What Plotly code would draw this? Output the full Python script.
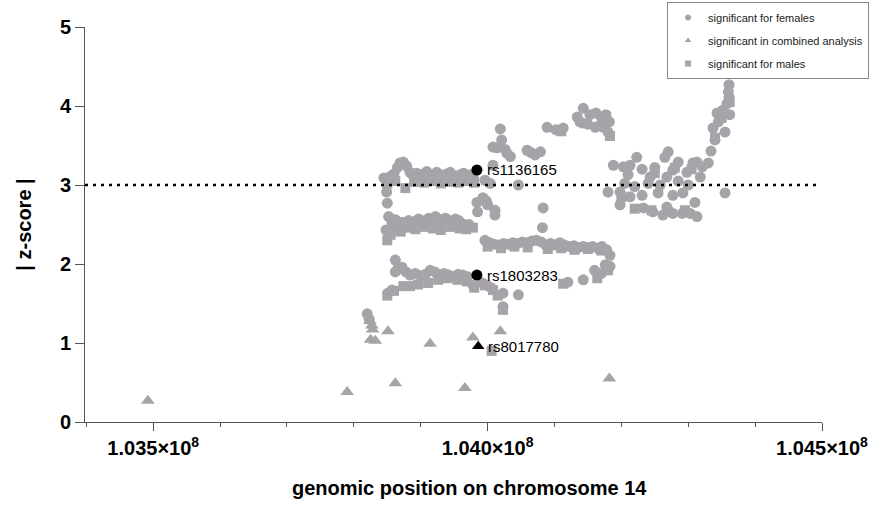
import plotly.graph_objects as go

# ---------------- data (positions in Mb, |z-score|) ----------------
fem_pos = [
    # top band ~3.1
    103.845, 103.850, 103.855, 103.860, 103.865, 103.869, 103.874, 103.879, 103.884, 103.889,
    103.894, 103.899, 103.904, 103.909, 103.914, 103.919, 103.924, 103.929, 103.934, 103.939,
    103.944, 103.949, 103.954, 103.959, 103.964, 103.969, 103.974, 103.979,
    # left column
    103.849, 103.850, 103.852, 103.848, 103.862,
    # band ~2.55
    103.857, 103.862, 103.867, 103.872, 103.877, 103.882, 103.887, 103.892, 103.897, 103.902,
    103.907, 103.912, 103.917, 103.922, 103.927, 103.932, 103.937, 103.942, 103.947, 103.952,
    103.957, 103.962, 103.967, 103.972,
    # middle cluster
    103.984, 103.985, 103.993, 103.998, 104.000, 104.004, 104.008, 104.011, 104.011, 104.008,
    104.014, 104.019, 104.021, 104.026, 104.029, 104.034, 104.046, 104.059, 104.065, 104.071,
    104.079, 104.083, 104.082, 103.996,
    # upper cluster 3.6-4.0
    104.089, 104.102, 104.113, 104.134, 104.143, 104.153, 104.162, 104.170, 104.177, 104.182,
    104.138, 104.150, 104.161, 104.173, 104.180,
    # band ~2.25
    103.996, 104.003, 104.010, 104.017, 104.024, 104.031, 104.038, 104.045, 104.052, 104.059,
    104.066, 104.073, 104.080, 104.087, 104.094, 104.101, 104.108, 104.115, 104.122, 104.129,
    104.136, 104.143, 104.150, 104.157, 104.164, 104.171, 104.178, 104.183,
    # lower band ~1.85
    103.851, 103.857, 103.862, 103.866, 103.872, 103.878, 103.884, 103.892, 103.900, 103.907,
    103.914, 103.921, 103.928, 103.935, 103.942, 103.949, 103.956, 103.963, 103.970, 103.978,
    103.992, 103.999, 104.005, 104.023, 104.023, 104.046, 104.120, 104.143, 104.160, 104.170,
    104.176, 104.183,
    # right cluster, rising arm
    104.361, 104.360, 104.361, 104.358, 104.352, 104.343, 104.362, 104.345, 104.337, 104.355,
    104.340, 104.334, 104.330, 104.321, 104.313, 104.318, 104.355,
    # right cluster, main body
    104.188, 104.203, 104.213, 104.223, 104.210, 104.231, 104.250, 104.270, 104.265, 104.285,
    104.277, 104.307, 104.298, 104.243, 104.268, 104.180, 104.198, 104.198, 104.213, 104.231,
    104.233, 104.247, 104.262, 104.277, 104.291, 104.303, 104.313, 104.310, 104.292, 104.277,
    104.255, 104.268, 104.240, 104.258, 104.285, 104.300, 104.220, 104.205,
    # left stragglers
    103.820, 103.823,
]
fem_z = [
    3.09, 3.07, 3.11, 3.14, 3.22, 3.28, 3.29, 3.24, 3.16, 3.12,
    3.15, 3.11, 3.14, 3.17, 3.12, 3.10, 3.16, 3.13, 3.11, 3.14,
    3.16, 3.12, 3.09, 3.13, 3.15, 3.11, 3.13, 3.08,
    2.91, 2.77, 2.60, 2.43, 2.05,
    2.52, 2.56, 2.50, 2.53, 2.49, 2.55, 2.52, 2.54, 2.57, 2.53,
    2.55, 2.58, 2.56, 2.60, 2.57, 2.54, 2.58, 2.55, 2.52, 2.57,
    2.55, 2.51, 2.48, 2.50,
    2.78, 2.66, 2.84, 2.80, 2.75, 3.02, 3.25, 2.68, 2.62, 3.48,
    3.47, 3.71, 3.57, 3.45, 3.40, 3.36, 3.00, 3.44, 3.41, 3.38,
    3.42, 2.71, 2.46, 3.06,
    3.73, 3.70, 3.72, 3.86, 3.97, 3.89, 3.91, 3.86, 3.89, 3.80,
    3.80, 3.77, 3.73, 3.73, 3.67,
    2.30, 2.27, 2.25, 2.24, 2.26, 2.25, 2.27, 2.26, 2.28, 2.27,
    2.29, 2.30, 2.28, 2.24, 2.26, 2.24, 2.27, 2.24, 2.22, 2.23,
    2.21, 2.22, 2.21, 2.22, 2.20, 2.22, 2.18, 2.11,
    1.63, 1.67, 1.90, 1.94, 1.96, 1.90, 1.86, 1.88, 1.85, 1.87,
    1.92, 1.90, 1.86, 1.88, 1.86, 1.84, 1.87, 1.86, 1.84, 1.73,
    1.76, 1.73, 1.70, 1.63, 1.46, 1.61, 1.77, 1.80, 1.92, 1.88,
    1.99, 1.97,
    4.27, 4.18, 4.11, 4.03, 3.95, 3.91, 3.89, 3.80, 3.72, 3.67,
    3.57, 3.43, 3.28, 3.23, 3.29, 3.10, 2.90,
    3.25, 3.23, 3.25, 3.35, 3.13, 3.20, 3.22, 3.42, 3.35, 3.29,
    3.19, 3.28, 3.16, 3.10, 3.10, 2.91, 2.91, 2.75, 2.85, 2.87,
    2.71, 2.66, 2.62, 2.64, 2.64, 2.64, 2.60, 2.78, 2.90, 2.87,
    2.90, 2.72, 3.02, 3.00, 3.05, 3.00, 2.98, 3.02,
    1.37, 1.30,
]

comb_pos = [103.492, 103.790, 103.824, 103.827, 103.828, 103.832, 103.825, 103.851,
            103.862, 103.914, 103.966, 103.978, 104.019, 104.182]
comb_z = [0.27, 0.38, 1.28, 1.22, 1.17, 1.03, 1.04, 1.15,
          0.49, 0.99, 0.43, 1.07, 1.15, 0.55]

male_pos = [
    103.850, 103.862, 103.877, 103.890, 103.905, 103.918, 103.930, 103.943, 103.956, 103.970, 103.980,
    103.850, 103.855, 103.862, 103.870, 103.880, 103.892, 103.905, 103.918, 103.930, 103.944,
    103.958, 103.968, 103.978,
    104.000, 104.020, 104.040, 104.060, 104.090, 104.110, 104.130, 104.150, 104.170,
    103.850, 103.860, 103.874, 103.884, 103.896, 103.911, 103.926, 103.940, 103.955, 103.969,
    103.980, 103.996, 104.008, 104.015, 104.023, 104.006, 104.113, 104.164, 104.180,
    104.200, 104.220, 104.245, 104.270, 104.295, 104.250, 104.280, 104.305, 104.340, 104.350, 104.362,
    104.170, 104.183, 104.110, 104.145,
]
male_z = [
    3.02, 3.05, 2.96, 3.04, 3.03, 3.05, 3.02, 3.04, 3.03, 3.05, 3.03,
    2.30, 2.37, 2.44, 2.41, 2.46, 2.44, 2.47, 2.45, 2.43, 2.47,
    2.45, 2.44, 2.46,
    2.22, 2.20, 2.22, 2.21, 2.19, 2.20, 2.18, 2.19, 2.17,
    1.60, 1.66, 1.72, 1.72, 1.74, 1.76, 1.80, 1.82, 1.80, 1.78,
    1.70, 1.73, 1.67, 1.60, 1.42, 0.90, 1.75, 1.82, 1.92,
    2.85, 2.70, 2.68, 2.66, 2.68, 3.15, 3.22, 3.20, 3.60, 3.85, 4.05,
    3.75, 3.62, 3.68, 3.78,
]

snp_names = ["rs1136165", "rs1803283", "rs8017780"]
snp_pos = [103.984, 103.984, 103.986]
snp_z = [3.19, 1.86, 0.96]
snp_symbol = ["circle", "circle", "triangle-up"]

tick_vals = [103.5, 104.0, 104.5]
tick_text = ["1.035×10<sup>8</sup>", "1.040×10<sup>8</sup>", "1.045×10<sup>8</sup>"]
threshold = 3

# ---------------- figure ----------------
GRAY = "#a7a4a9"
FONT = "Liberation Sans, Arial, sans-serif"
AX = "#555555"

def bp(v):
    return [p * 1e6 for p in v]

fig = go.Figure()
fig.add_trace(go.Scatter(x=bp(fem_pos), y=fem_z, mode="markers", showlegend=False,
                         marker=dict(symbol="circle", size=11, color=GRAY, line=dict(width=0))))
fig.add_trace(go.Scatter(x=bp(male_pos), y=male_z, mode="markers", showlegend=False,
                         marker=dict(symbol="square", size=10, color=GRAY, line=dict(width=0))))
fig.add_trace(go.Scatter(x=bp(comb_pos), y=comb_z, mode="markers", showlegend=False,
                         marker=dict(symbol="triangle-up", size=12, color=GRAY, line=dict(width=0))))
fig.add_trace(go.Scatter(x=bp(snp_pos), y=snp_z, mode="markers", showlegend=False,
                         marker=dict(symbol=snp_symbol, size=11, color="black", line=dict(width=0))))

for i, (name, sym) in enumerate([("significant for females", "circle"),
                                 ("significant in combined analysis", "triangle-up"),
                                 ("significant for males", "square")]):
    fig.add_trace(go.Scatter(x=[None], y=[None], mode="markers", name=name,
                             legendgroup=f"g{i}",
                             marker=dict(symbol=sym, size=6, color=GRAY)))

for n, p, z in zip(snp_names, snp_pos, snp_z):
    fig.add_annotation(x=p * 1e6, y=z, text=n, showarrow=False, xanchor="left",
                       yanchor="middle", xshift=8, font=dict(family=FONT, size=15, color="black"))

# x-axis title as annotation (centred slightly right of the plot centre, as in the reference)
fig.add_annotation(xref="paper", yref="paper", x=0.522, y=-0.167, xanchor="center",
                   yanchor="middle", showarrow=False,
                   text="<b>genomic position on chromosome 14</b>",
                   font=dict(family=FONT, size=20, color="black"))

fig.add_shape(type="line", xref="x", yref="y", x0=103.398e6, x1=104.497e6,
              y0=threshold, y1=threshold,
              line=dict(color="black", width=2.5, dash="3px,5px"))

fig.update_layout(
    width=872, height=505,
    margin=dict(l=85, r=50, t=27, b=83, autoexpand=False),
    paper_bgcolor="white", plot_bgcolor="white",
    font=dict(family=FONT, color="black"),
    xaxis=dict(range=[103.398e6, 104.5e6], tickvals=bp(tick_vals), ticktext=tick_text,
               ticks="outside", ticklen=8, tickwidth=1, tickcolor=AX,
               showline=True, linecolor=AX, linewidth=1, showgrid=False, zeroline=False,
               automargin=False,
               tickfont=dict(family=FONT, size=20, color="black", weight="bold"),
               minor=dict(tick0=103.5e6, dtick=1e5, ticks="outside", ticklen=4,
                          tickcolor=AX, tickwidth=1, showgrid=False)),
    yaxis=dict(range=[0, 5], tickvals=[0, 1, 2, 3, 4, 5], ticks="outside", ticklen=9,
               tickwidth=1, tickcolor=AX, showline=True, linecolor=AX, linewidth=1,
               showgrid=False, zeroline=False, automargin=False,
               tickfont=dict(family=FONT, size=20, color="black", weight="bold"),
               title=dict(text="<b>| z-score |</b>",
                          font=dict(family=FONT, size=20, color="black"), standoff=22)),
    legend=dict(xref="container", yref="container", x=0.765, y=0.996,
                xanchor="left", yanchor="top", bgcolor="white", bordercolor="#888888",
                borderwidth=1, itemwidth=30, tracegroupgap=4,
                font=dict(family=FONT, size=11, color="#222222")),
)

fig.write_html("out.html", config={"displayModeBar": False},
               post_script="document.body.style.margin='0px';document.body.style.overflow='hidden';")
